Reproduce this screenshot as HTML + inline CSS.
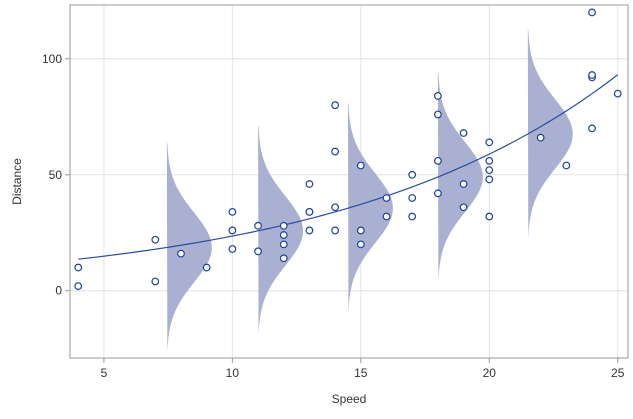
<!DOCTYPE html>
<html><head><meta charset="utf-8"><style>
body{margin:0;background:#fff;font-family:"Liberation Sans",sans-serif}
svg text{font-family:"Liberation Sans",sans-serif;font-size:12px;fill:#333}
</style></head><body>
<svg id="chart" width="633" height="414">
<g id="grid"></g><g id="dens"></g><g id="fit"></g><g id="pts"></g><g id="axes"></g>
</svg>
<script>
const speed=[4,4,7,7,8,9,10,10,10,11,11,12,12,12,12,13,13,13,13,14,14,14,14,15,15,15,16,16,17,17,17,18,18,18,18,19,19,19,20,20,20,20,20,22,23,24,24,24,24,25];
const dist=[2,10,4,22,16,10,18,26,34,17,28,14,20,24,28,26,34,34,46,26,36,60,80,20,26,54,32,40,32,40,50,42,56,76,84,36,46,68,32,48,52,56,64,66,54,70,92,93,120,85];
const densX=[7.45,11,14.5,18,21.5];
const densSd=[15,15,15,15,15];
const fitA=9.43, fitB=0.0916;
const xTicks=[5,10,15,20,25];
const yTicks=[0,50,100];
const L=70,R=628,T=5,B=358;
const xmin=3.68,xmax=25.4,ymin=-29,ymax=123.2;
const sx=v=>L+(v-xmin)/(xmax-xmin)*(R-L);
const sy=v=>B-(v-ymin)/(ymax-ymin)*(B-T);
const NS="http://www.w3.org/2000/svg";
function mk(tag,parent,attrs){const e=document.createElementNS(NS,tag);for(const k in attrs)e.setAttribute(k,attrs[k]);document.getElementById(parent).appendChild(e);return e;}
xTicks.forEach(t=>{const e=mk('line','grid',{x1:sx(t),x2:sx(t),y1:T,y2:B,stroke:'#e4e4e4'});

});
yTicks.forEach(t=>{const e=mk('line','grid',{x1:L,x2:R,y1:sy(t),y2:sy(t),stroke:'#e4e4e4'});

});
const fitF=x=>fitA*Math.exp(fitB*x);
densX.forEach((x0,i)=>{const m=fitF(x0),s=densSd[i];let d=`M${sx(x0)},${sy(m+3*s)}`;
for(let k=0;k<=120;k++){const y=m+3*s-k*6*s/120;const z=(y-m)/s;const w=1.75*Math.exp(-z*z/2);d+=` L${sx(x0+w)},${sy(y)}`;}
d+=' Z';const e=mk('path','dens',{d:d,fill:'#a9b0d2'});

});
let fd='';for(let k=0;k<=100;k++){const x=4+k*21/100;fd+=(k?' L':'M')+sx(x)+','+sy(fitF(x));}
const fl=mk('path','fit',{d:fd,fill:'none',stroke:'#2b4aa0','stroke-width':1.2});


speed.forEach((s,i)=>{const c=mk('circle','pts',{cx:sx(s),cy:sy(dist[i]),r:3.3,fill:'#fff',stroke:'#1f3f9f','stroke-width':1.2});

});
const fr=mk('rect','axes',{x:L,y:T,width:R-L,height:B-T,fill:'none',stroke:'#999'});


xTicks.forEach(t=>{const l=mk('line','axes',{x1:sx(t),x2:sx(t),y1:B,y2:B+5,stroke:'#999'});


const tx=mk('text','axes',{x:sx(t),y:B+19,'text-anchor':'middle'});tx.textContent=t;

});
yTicks.forEach(t=>{const l=mk('line','axes',{x1:L-5,x2:L,y1:sy(t),y2:sy(t),stroke:'#999'});


const tx=mk('text','axes',{x:L-8,y:sy(t)+4,'text-anchor':'end'});tx.textContent=t;

});
const xt=mk('text','axes',{x:(L+R)/2,y:403,'text-anchor':'middle'});xt.textContent='Speed';


const yt=mk('text','axes',{x:0,y:0,'text-anchor':'middle',transform:`translate(21,${(T+B)/2}) rotate(-90)`});yt.textContent='Distance';


</script>
</body></html>
